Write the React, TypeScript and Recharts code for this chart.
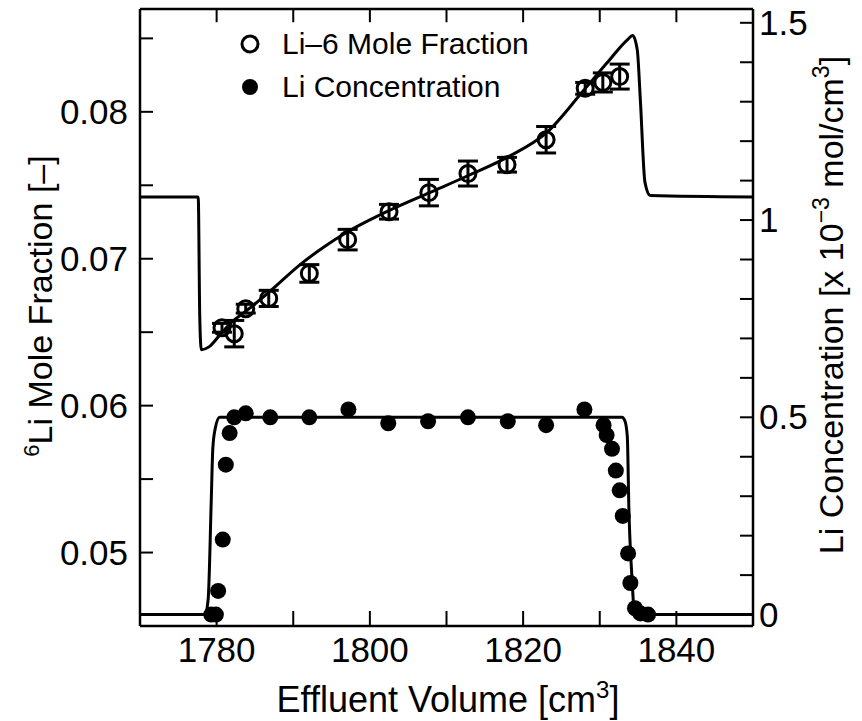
import { ComposedChart, Line, Scatter, ErrorBar, XAxis, YAxis, ReferenceLine } from 'recharts'

// Li-6 mole fraction: measured points (effluent volume, fraction, error)
const fracVolume = [1780.7, 1782.3, 1783.8, 1786.8, 1792.1, 1797.1, 1802.5, 1807.7, 1812.8, 1817.9, 1823.0, 1828.1, 1830.4, 1832.6]
const fracValue = [0.0653, 0.0649, 0.0666, 0.0673, 0.069, 0.0713, 0.0732, 0.0745, 0.0758, 0.0764, 0.0781, 0.0816, 0.082, 0.0824]
const fracError = [0.0003, 0.0009, 0.0003, 0.00055, 0.0006, 0.0007, 0.0005, 0.0009, 0.00085, 0.0005, 0.0009, 0.0004, 0.00065, 0.00085]

// Li-6 mole fraction: calculated curve
const fracCurveVolume = [1770, 1777.6, 1777.8, 1778.0, 1779.0, 1780.4, 1782.0, 1784.0, 1787.0, 1790.9, 1794.0, 1797.0, 1802.6, 1807.8, 1813.0, 1817.9, 1823.1, 1827.8, 1830.9, 1833.6, 1834.3, 1834.9, 1835.3, 1835.9, 1836.6, 1850]
const fracCurveValue = [0.0742, 0.0742, 0.066, 0.0638, 0.064, 0.0648, 0.0657, 0.0665, 0.0678, 0.0696, 0.0708, 0.0718, 0.0733, 0.0745, 0.0757, 0.0769, 0.0786, 0.0814, 0.0833, 0.0849, 0.0852, 0.0842, 0.0808, 0.0752, 0.0743, 0.0742]

// Li concentration: measured points
const concVolume = [1779.3, 1779.9, 1780.2, 1780.8, 1781.2, 1781.7, 1782.3, 1783.8, 1787.0, 1792.1, 1797.2, 1802.4, 1807.6, 1812.8, 1818.0, 1823.0, 1828.0, 1830.5, 1830.9, 1831.6, 1832.1, 1832.6, 1833.0, 1833.7, 1834.0, 1834.6, 1835.3, 1836.3]
const concValue = [0.0, 0.0, 0.06, 0.19, 0.38, 0.46, 0.5, 0.51, 0.5, 0.5, 0.52, 0.485, 0.49, 0.5, 0.49, 0.48, 0.52, 0.48, 0.455, 0.42, 0.365, 0.315, 0.25, 0.155, 0.08, 0.016, 0.003, 0.0]

// Li concentration: calculated curve
const concCurveVolume = [1770, 1778.5, 1778.9, 1779.3, 1779.5, 1779.8, 1780.4, 1781.0, 1832.9, 1833.3, 1833.6, 1833.8, 1834.2, 1834.5, 1834.8, 1850]
const concCurveValue = [0, 0, 0.04, 0.29, 0.42, 0.47, 0.5, 0.5, 0.5, 0.49, 0.45, 0.27, 0.095, 0.01, 0, 0]

const volumeTicks = [1780, 1790, 1800, 1810, 1820, 1830, 1840]
const fracTicks = [0.05, 0.055, 0.06, 0.065, 0.07, 0.075, 0.08, 0.085]
const concTicks = [0, 0.1, 0.2, 0.3, 0.4, 0.5, 0.6, 0.7, 0.8, 0.9, 1.0, 1.1, 1.2, 1.3, 1.4, 1.5]

const fracPoints = fracVolume.map((x, i) => ({ x, y: fracValue[i], err: fracError[i] }))
const fracCurve = fracCurveVolume.map((x, i) => ({ x, y: fracCurveValue[i] }))
const concPoints = concVolume.map((x, i) => ({ x, y: concValue[i] }))
const concCurve = concCurveVolume.map((x, i) => ({ x, y: concCurveValue[i] }))

const FONT = '"Liberation Sans", Arial, sans-serif'
// plot frame in page pixels
const LEFT = 140
const RIGHT = 753
const BOTTOM = 626
const TICK = 13
const FRAC_MAX = 0.087
const TOP_TICK_LEN = 0.0009 // top tick length in fraction units (~13px)
const axisLine = { stroke: '#000', strokeWidth: 2.5 }

const isMultiple = (v: number, step: number) => Math.abs(v / step - Math.round(v / step)) < 1e-6

const BottomTick = ({ x, payload }: any) => (
  <g>
    <line x1={x} x2={x} y1={BOTTOM} y2={BOTTOM - TICK - 2} stroke="#000" strokeWidth={2} />
    {isMultiple(payload.value, 20) && (
      <text x={x} y={BOTTOM + 36} textAnchor="middle" fontSize={35} fill="#000">{payload.value}</text>
    )}
  </g>
)
const LeftTick = ({ y, payload }: any) => (
  <g>
    <line x1={LEFT} x2={LEFT + TICK} y1={y} y2={y} stroke="#000" strokeWidth={2} />
    {isMultiple(payload.value, 0.01) && (
      <text x={128} y={y + 12} textAnchor="end" fontSize={35} fill="#000">{payload.value.toFixed(2)}</text>
    )}
  </g>
)
const RightTick = ({ y, payload }: any) => (
  <g>
    <line x1={RIGHT} x2={RIGHT - TICK} y1={y} y2={y} stroke="#000" strokeWidth={2} />
    {isMultiple(payload.value, 0.5) && (
      <text x={759} y={y + 12} textAnchor="start" fontSize={35} fill="#000">{String(payload.value)}</text>
    )}
  </g>
)

const OpenDot = (p: any) => <circle cx={p.cx} cy={p.cy} r={8} fill="none" stroke="#000" strokeWidth={3} />
const FilledDot = (p: any) => <circle cx={p.cx} cy={p.cy} r={8} fill="#000" />

export default function App() {
  return (
    <div style={{ position: 'absolute', left: 0, top: 0, width: 862, height: 721, background: '#fff', fontFamily: FONT }}>
      <ComposedChart width={862} height={721} margin={{ top: 9, right: 49, left: 80, bottom: 55 }}>
        <XAxis
          dataKey="x"
          type="number"
          domain={[1770, 1850]}
          ticks={volumeTicks}
          interval={0}
          tick={<BottomTick />}
          tickLine={false}
          height={40}
          axisLine={axisLine}
          allowDataOverflow
        />
        <YAxis
          yAxisId="frac"
          type="number"
          domain={[0.045, FRAC_MAX]}
          ticks={fracTicks}
          interval={0}
          tick={<LeftTick />}
          tickLine={false}
          width={60}
          axisLine={axisLine}
          allowDataOverflow
        />
        <YAxis
          yAxisId="conc"
          orientation="right"
          type="number"
          domain={[-0.029, 1.535]}
          ticks={concTicks}
          interval={0}
          tick={<RightTick />}
          tickLine={false}
          width={60}
          axisLine={axisLine}
          allowDataOverflow
        />
        {/* top frame with inward ticks */}
        <ReferenceLine yAxisId="frac" y={FRAC_MAX} stroke="#000" strokeWidth={2.5} />
        {volumeTicks.map((v) => (
          <ReferenceLine
            key={v}
            yAxisId="frac"
            segment={[{ x: v, y: FRAC_MAX }, { x: v, y: FRAC_MAX - TOP_TICK_LEN }]}
            stroke="#000"
            strokeWidth={2}
          />
        ))}
        <Line
          yAxisId="frac"
          data={fracCurve}
          dataKey="y"
          type="monotone"
          stroke="#000"
          strokeWidth={3}
          dot={false}
          isAnimationActive={false}
        />
        <Line
          yAxisId="conc"
          data={concCurve}
          dataKey="y"
          type="monotone"
          stroke="#000"
          strokeWidth={3}
          dot={false}
          isAnimationActive={false}
        />
        <Scatter yAxisId="frac" data={fracPoints} dataKey="y" shape={OpenDot} isAnimationActive={false}>
          <ErrorBar dataKey="err" direction="y" width={10} stroke="#000" strokeWidth={3} />
        </Scatter>
        <Scatter yAxisId="conc" data={concPoints} dataKey="y" shape={FilledDot} isAnimationActive={false} />
      </ComposedChart>

      <svg width={862} height={721} style={{ position: 'absolute', left: 0, top: 0, pointerEvents: 'none' }}>
        {/* legend */}
        <circle cx={250} cy={44} r={8} fill="none" stroke="#000" strokeWidth={3} />
        <text x={282} y={54} fontSize={30}>Li–6 Mole Fraction</text>
        <circle cx={250} cy={87} r={8} fill="#000" />
        <text x={282} y={97} fontSize={30}>Li Concentration</text>

        {/* axis titles */}
        <text x={448} y={712} fontSize={36} textAnchor="middle">
          Effluent Volume [cm<tspan fontSize={24} dy={-14}>3</tspan><tspan dy={14}>]</tspan>
        </text>
        <text transform="translate(52,306) rotate(-90)" fontSize={34} textAnchor="middle">
          <tspan fontSize={22} dy={-13}>6</tspan><tspan dy={13}>Li Mole Fraction [–]</tspan>
        </text>
        <text transform="translate(843,305) rotate(-90)" fontSize={34} textAnchor="middle">
          Li Concentration [x 10<tspan fontSize={23} dy={-14}>−3</tspan>
          <tspan dy={14}> mol/cm</tspan><tspan fontSize={23} dy={-14}>3</tspan><tspan dy={14}>]</tspan>
        </text>
      </svg>
    </div>
  )
}
